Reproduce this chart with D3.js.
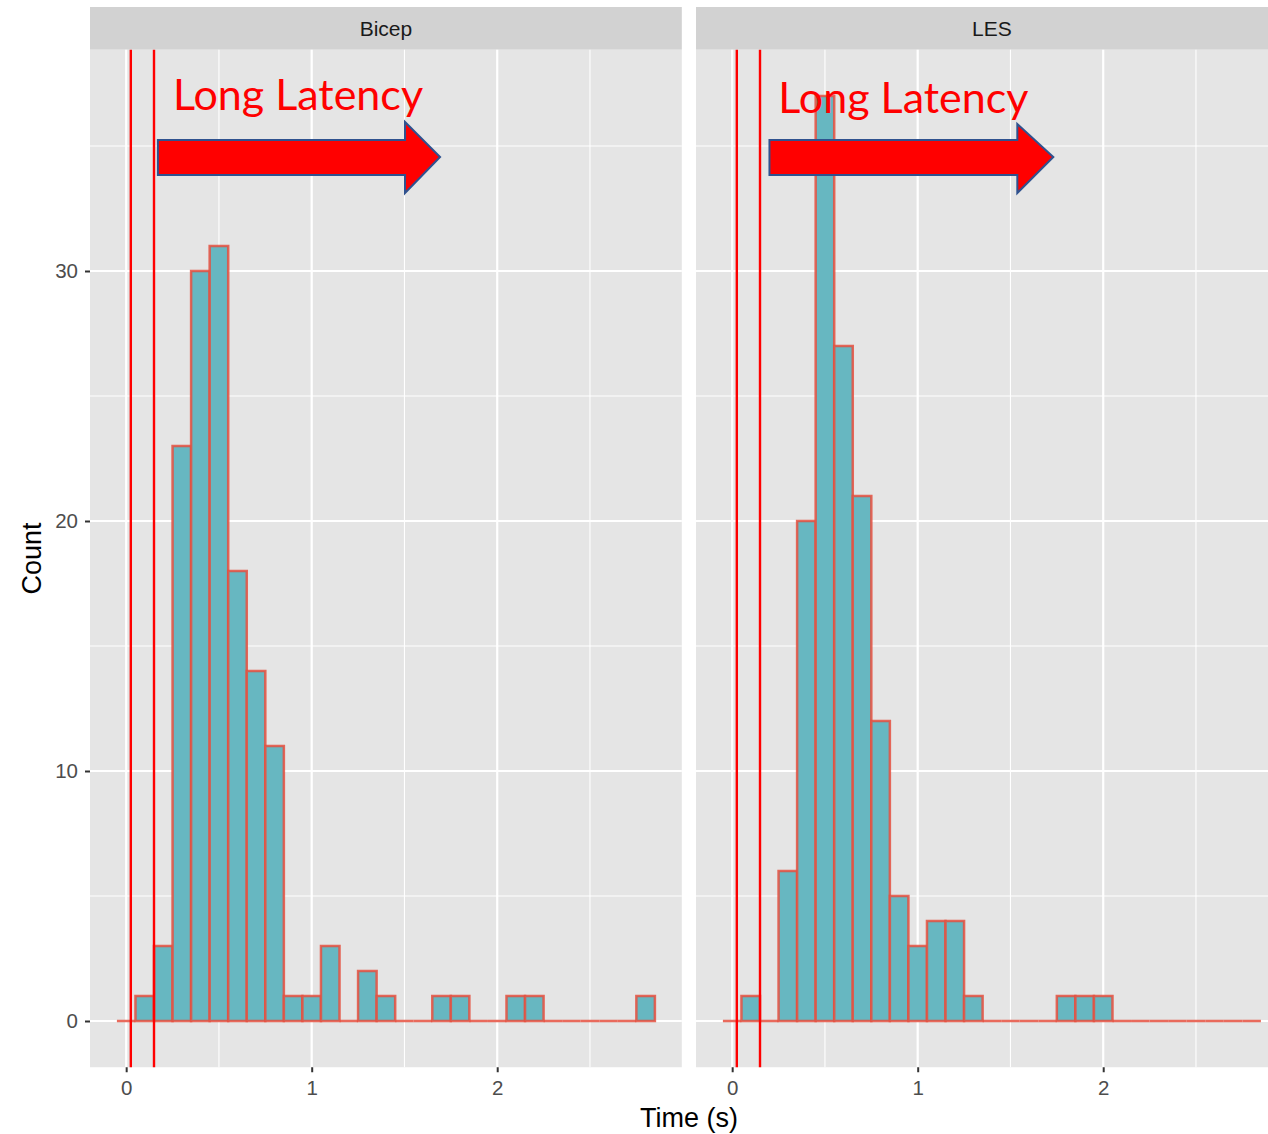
<!DOCTYPE html>
<html>
<head>
<meta charset="utf-8">
<script src="https://cdn.jsdelivr.net/npm/d3@7"></script>
<style>
  html, body { margin: 0; padding: 0; background: #ffffff; }
  svg { display: block; }
</style>
</head>
<body>
<svg id="chart" width="1268" height="1134"></svg>
<script>
// Histogram bins: width 0.1 s, centred on 0.0, 0.1, ... 2.8
const binCenters = d3.range(29).map(i => +(i * 0.1).toFixed(2));
const binWidth = 0.1;

const facets = ["Bicep", "LES"];

const bicepCounts = [0, 1, 3, 23, 30, 31, 18, 14, 11, 1, 1, 3, 0, 2, 1, 0, 0, 1, 1, 0, 0, 1, 1, 0, 0, 0, 0, 0, 1];
const lesCounts   = [0, 1, 0, 6, 20, 37, 27, 21, 12, 5, 3, 4, 4, 1, 0, 0, 0, 0, 1, 1, 1, 0, 0, 0, 0, 0, 0, 0, 0];

// Reference lines (s)
const vLines = [0.025, 0.15];

const xTicks = [0, 1, 2];
const xMinor = [0.5, 1.5, 2.5];
const yTicks = [0, 10, 20, 30];
const yMinor = [5, 15, 25, 35];

// "Long Latency" call-outs, given in data units for each panel
const calloutText = "Long Latency";
const calloutTextPos = [[0.252, 36.44], [0.249, 36.32]];
// arrow: [x start, shaft end, tip], [shaft top, shaft bottom, head top, head bottom, tip y]
const arrowX = [[0.171, 1.503, 1.692], [0.201, 1.537, 1.731]];
const arrowY = [[35.24, 33.84, 35.96, 33.12, 34.56], [35.24, 33.84, 35.88, 33.12, 34.56]];

const series = [bicepCounts, lesCounts];

const svg = d3.select("#chart");

const panelTop = 49.75, panelBottom = 1067.25;
const panelLefts = [90, 696];
const panelW = 591.8;
const stripTop = 7;

const xDomain = [-0.195, 2.995];
const yDomain = [-1.85, 38.85];

const y = d3.scaleLinear().domain(yDomain).range([panelBottom, panelTop]);

const clipRoot = svg.append("defs");

facets.forEach((name, p) => {
  const x0 = panelLefts[p];
  const x = d3.scaleLinear().domain(xDomain).range([x0, x0 + panelW]);
  const g = svg.append("g");

  clipRoot.append("clipPath").attr("id", "clip" + p)
    .append("rect").attr("x", x0).attr("y", panelTop)
    .attr("width", panelW).attr("height", panelBottom - panelTop);

  // strip
  g.append("rect").attr("x", x0).attr("y", stripTop)
    .attr("width", panelW).attr("height", panelTop - stripTop)
    .attr("fill", "#d2d2d2");
  g.append("text").attr("x", x0 + panelW / 2).attr("y", 35.5)
    .attr("text-anchor", "middle")
    .attr("font-family", "'Liberation Sans', Arial, sans-serif")
    .attr("font-size", 21).attr("fill", "#1a1a1a")
    .text(name);

  // panel background
  g.append("rect").attr("x", x0).attr("y", panelTop)
    .attr("width", panelW).attr("height", panelBottom - panelTop)
    .attr("fill", "#e5e5e5");

  const grid = g.append("g").attr("stroke", "#ffffff");
  grid.selectAll(".ymin").data(yMinor).join("line")
    .attr("x1", x0).attr("x2", x0 + panelW)
    .attr("y1", d => y(d)).attr("y2", d => y(d)).attr("stroke-width", 1.1);
  grid.selectAll(".xmin").data(xMinor).join("line")
    .attr("y1", panelTop).attr("y2", panelBottom)
    .attr("x1", d => x(d)).attr("x2", d => x(d)).attr("stroke-width", 1.1);
  grid.selectAll(".ymaj").data(yTicks).join("line")
    .attr("x1", x0).attr("x2", x0 + panelW)
    .attr("y1", d => y(d)).attr("y2", d => y(d)).attr("stroke-width", 2.2);
  grid.selectAll(".xmaj").data(xTicks).join("line")
    .attr("y1", panelTop).attr("y2", panelBottom)
    .attr("x1", d => x(d)).attr("x2", d => x(d)).attr("stroke-width", 2.2);

  // histogram bars (zero bins drawn as a flat outline)
  const bins = binCenters.map((c, i) => ({ c, n: series[p][i] }));
  g.append("g").attr("clip-path", `url(#clip${p})`)
    .selectAll("path").data(bins).join("path")
    .attr("d", d => {
      const pa = d3.path();
      pa.rect(x(d.c - binWidth / 2), y(d.n), x(d.c + binWidth / 2) - x(d.c - binWidth / 2), y(0) - y(d.n));
      return pa.toString();
    })
    .attr("fill", "#67b7c1")
    .attr("stroke", "#e5503f")
    .attr("stroke-opacity", 0.85)
    .attr("stroke-width", 2.5);

  // reference lines
  g.append("g").selectAll("line").data(vLines).join("line")
    .attr("x1", d => x(d)).attr("x2", d => x(d))
    .attr("y1", panelTop).attr("y2", panelBottom)
    .attr("stroke", "#ff0000").attr("stroke-width", 2.4);

  // x axis
  const xa = g.append("g").attr("transform", `translate(0,${panelBottom})`)
    .call(d3.axisBottom(x).tickValues(xTicks).tickSize(5).tickPadding(8).tickFormat(d3.format("d")));
  xa.select(".domain").remove();
  xa.selectAll(".tick line").attr("stroke", "#333333").attr("stroke-width", 2);
  xa.selectAll(".tick text").attr("fill", "#4d4d4d")
    .attr("font-family", "'Liberation Sans', Arial, sans-serif").attr("font-size", 20.5);

  // call-out: text and arrow
  const [tx, ty] = calloutTextPos[p];
  const [ax0, ax1, ax2] = arrowX[p];
  const [sTop, sBot, hTop, hBot, tipY] = arrowY[p];
  const arrowPts = [
    [ax0, sTop], [ax1, sTop], [ax1, hTop], [ax2, tipY],
    [ax1, hBot], [ax1, sBot], [ax0, sBot]
  ];
  g.append("text").attr("x", x(tx)).attr("y", y(ty))
    .attr("font-family", "Lato, 'Open Sans', sans-serif")
    .attr("font-size", 43).attr("fill", "#ff0000")
    .text(calloutText);
  g.append("path")
    .attr("d", d3.line().x(d => x(d[0])).y(d => y(d[1]))(arrowPts) + "Z")
    .attr("fill", "#ff0000").attr("stroke", "#2f528f").attr("stroke-width", 2)
    .attr("stroke-linejoin", "miter");
});

// y axis (left panel only)
const ya = svg.append("g").attr("transform", `translate(${panelLefts[0]},0)`)
  .call(d3.axisLeft(y).tickValues(yTicks).tickSize(5).tickPadding(7).tickFormat(d3.format("d")));
ya.select(".domain").remove();
ya.selectAll(".tick line").attr("stroke", "#333333").attr("stroke-width", 2);
ya.selectAll(".tick text").attr("fill", "#4d4d4d")
  .attr("font-family", "'Liberation Sans', Arial, sans-serif").attr("font-size", 20.5);

// axis titles
svg.append("text")
  .attr("x", (panelLefts[0] + panelLefts[1] + panelW) / 2).attr("y", 1127)
  .attr("text-anchor", "middle")
  .attr("font-family", "'Liberation Sans', Arial, sans-serif")
  .attr("font-size", 27).attr("fill", "#000000")
  .text("Time (s)");
svg.append("text")
  .attr("transform", `translate(41,${(panelTop + panelBottom) / 2}) rotate(-90)`)
  .attr("text-anchor", "middle")
  .attr("font-family", "'Liberation Sans', Arial, sans-serif")
  .attr("font-size", 27).attr("fill", "#000000")
  .text("Count");
</script>
</body>
</html>
